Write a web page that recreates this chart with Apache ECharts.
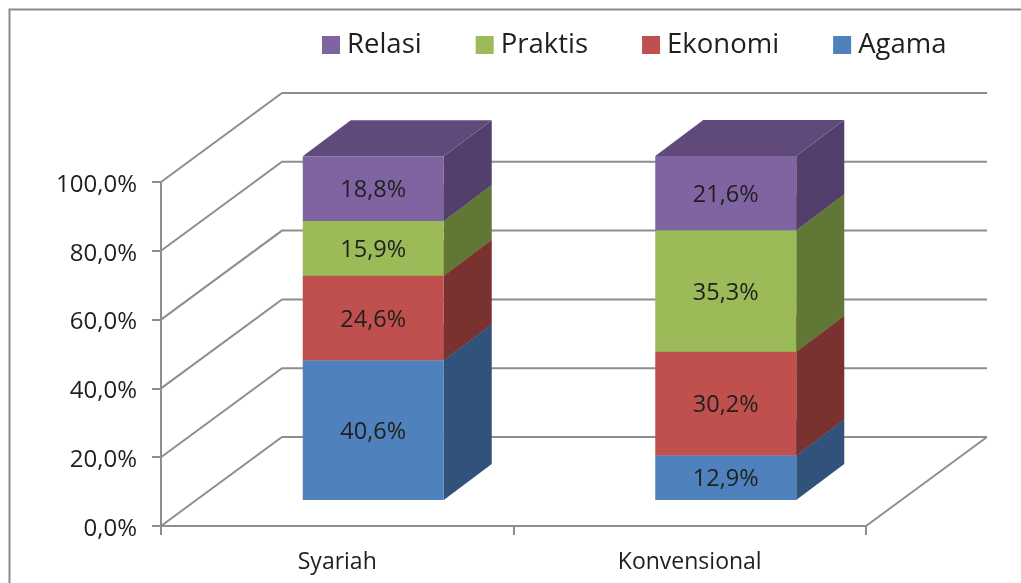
<!DOCTYPE html>
<html>
<head>
<meta charset="utf-8">
<title>Syariah vs Konvensional</title>
<script src="https://cdn.jsdelivr.net/npm/echarts@6/dist/echarts.min.js"></script>
<style>
  html, body { margin: 0; padding: 0; background: #fff; }
  #chart { width: 1021px; height: 583px; }
</style>
</head>
<body>
<div id="chart"></div>
<script>
const categories = ['Syariah', 'Konvensional'];
const seriesNames = ['Agama', 'Ekonomi', 'Praktis', 'Relasi'];
const agama = [40.6, 12.9];
const ekonomi = [24.6, 30.2];
const praktis = [15.9, 35.3];
const relasi = [18.8, 21.6];
const yTicks = [0, 20, 40, 60, 80, 100];
const legendOrder = ['Relasi', 'Praktis', 'Ekonomi', 'Agama'];

const frontColors = ['#4f81bd', '#c0504d', '#9bbb59', '#8064a2'];
const sideColors = ['#31527a', '#7a3230', '#607736', '#523f6c'];
const topColors = ['#3a6190', '#92403d', '#74903f', '#604a7b'];
const gridColor = '#8e8e8e';
const fontName = '"Open Sans", sans-serif';

// 3d look: the walls go back by wall, the bars stand at barOffset and are barDepth deep
const wall = { x: 121, y: -89 };
const barOffset = { x: 36, y: -26 };
const barDepth = { x: 48, y: -36 };
const barShare = 0.4;

const allValues = [agama, ekonomi, praktis, relasi];

function fmt(v) {
  return v.toFixed(1).replace('.', ',') + '%';
}

// sum of the segments under this one
function stackBase(serieIdx, catIdx) {
  let sum = 0;
  for (let i = 0; i < serieIdx; i++) sum += allValues[i][catIdx];
  return sum;
}

function renderWalls(params, api) {
  const v = api.value(0);
  const left = api.coord([0, v]);
  left[0] = params.coordSys.x;
  const right = params.coordSys.x + params.coordSys.width;
  const backLeft = [left[0] + wall.x, left[1] + wall.y];
  const backRight = [right + wall.x, backLeft[1]];
  const style = { stroke: gridColor, lineWidth: 2, fill: null };
  const children = [{
    type: 'polyline',
    shape: { points: [left, backLeft, backRight] },
    style: style
  }];
  if (v === 0) {
    children.push({
      type: 'line',
      shape: { x1: right, y1: left[1], x2: backRight[0], y2: backRight[1] },
      style: style
    });
  }
  return { type: 'group', silent: true, children: children };
}

function renderSegment(serieIdx) {
  return function (params, api) {
    const cat = api.value(0);
    const val = api.value(1);
    const base = stackBase(serieIdx, cat);
    const band = api.size([1, 0])[0];
    const w = band * barShare;
    const bottom = api.coord([cat, base]);
    const top = api.coord([cat, base + val]);
    const x0 = bottom[0] - w / 2 + barOffset.x;
    const x1 = x0 + w;
    const yb = bottom[1] + barOffset.y;
    const yt = top[1] + barOffset.y;
    return {
      type: 'group',
      children: [
        {
          type: 'polygon',
          shape: { points: [[x1, yb], [x1 + barDepth.x, yb + barDepth.y], [x1 + barDepth.x, yt + barDepth.y], [x1, yt]] },
          style: { fill: sideColors[serieIdx] }
        },
        {
          type: 'polygon',
          shape: { points: [[x0, yt], [x0 + barDepth.x, yt + barDepth.y], [x1 + barDepth.x, yt + barDepth.y], [x1, yt]] },
          style: { fill: topColors[serieIdx] }
        },
        {
          type: 'rect',
          shape: { x: x0, y: yt, width: w, height: yb - yt },
          style: { fill: frontColors[serieIdx] }
        },
        {
          type: 'text',
          style: {
            text: fmt(val),
            x: (x0 + x1) / 2,
            y: (yt + yb) / 2 + 2,
            align: 'center',
            verticalAlign: 'middle',
            font: '23.5px ' + fontName,
            fill: '#1f1f1f'
          }
        }
      ]
    };
  };
}

const series = [{
  name: 'walls',
  type: 'custom',
  renderItem: renderWalls,
  data: yTicks.map(v => [v]),
  encode: { y: 0 },
  z: 1,
  silent: true,
  clip: false
}];

seriesNames.forEach((name, i) => {
  series.push({
    name: name,
    type: 'custom',
    renderItem: renderSegment(i),
    data: categories.map((c, j) => [j, allValues[i][j]]),
    encode: { x: 0, y: 1 },
    itemStyle: { color: frontColors[i] },
    z: 2 + i,
    clip: false
  });
});

const chart = echarts.init(document.getElementById('chart'));
chart.setOption({
  animation: false,
  backgroundColor: '#fff',
  legend: {
    data: legendOrder,
    left: 317,
    top: 26,
    itemWidth: 18,
    itemHeight: 18,
    itemGap: 54,
    icon: 'rect',
    selectedMode: false,
    textStyle: { fontFamily: fontName, fontSize: 27.5, color: '#1f1f1f', padding: [0, 0, 0, 2] }
  },
  grid: { left: 161, top: 182, width: 705, height: 344 },
  xAxis: {
    type: 'category',
    data: categories,
    axisLine: { lineStyle: { color: gridColor, width: 2 } },
    axisTick: { show: true, length: 9, lineStyle: { color: gridColor, width: 2 } },
    axisLabel: { fontFamily: fontName, fontSize: 23, color: '#1f1f1f', margin: 25 }
  },
  yAxis: {
    type: 'value',
    min: 0,
    max: 100,
    interval: 20,
    splitLine: { show: false },
    axisLine: { show: true, lineStyle: { color: gridColor, width: 2 } },
    axisTick: { show: true, length: 9, lineStyle: { color: gridColor, width: 2 } },
    axisLabel: {
      margin: 24,
      formatter: v => '{a|' + fmt(v) + '}',
      rich: {
        a: { fontFamily: fontName, fontSize: 24, color: '#1f1f1f', padding: [6, 0, 0, 0] }
      }
    }
  },
  // rahmen kiri dan atas
  graphic: [{
    type: 'polyline',
    silent: true,
    shape: { points: [[9.5, 583], [9.5, 9.5], [1021, 9.5]] },
    style: { stroke: '#8a8a8a', lineWidth: 2, fill: null }
  }],
  series: series
});
</script>
</body>
</html>
